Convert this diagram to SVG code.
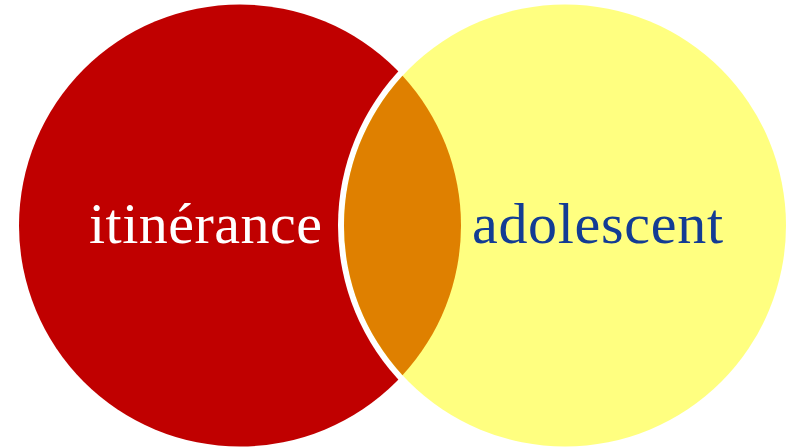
<svg xmlns="http://www.w3.org/2000/svg" width="792" height="448" viewBox="0 0 792 448">
  <style>
    .lbl { font-family: "Liberation Serif", "DejaVu Serif", serif; font-size: 58px; }
  </style>
  <rect x="0" y="0" width="792" height="448" fill="#FFFFFF"/>
  <g id="node-itinerance">
    <circle cx="240" cy="225.5" r="221" fill="#C00000"/>
  </g>
  <g id="node-adolescent">
    <circle cx="565" cy="225.5" r="227" fill="#FFFFFF"/>
    <circle cx="565" cy="225.5" r="221" fill="#FFFF80"/>
  </g>
  <g id="node-intersection">
    <path d="M 402.5 75.72 A 221 221 0 0 1 402.5 375.28 A 221 221 0 0 1 402.5 75.72 Z" fill="#DF8000"/>
  </g>
  <g id="labels">
    <text class="lbl" x="89" y="243" fill="#FFFFFF" textLength="233">itinérance</text>
    <text class="lbl" x="472" y="243" fill="#133C94" textLength="251">adolescent</text>
  </g>
</svg>
